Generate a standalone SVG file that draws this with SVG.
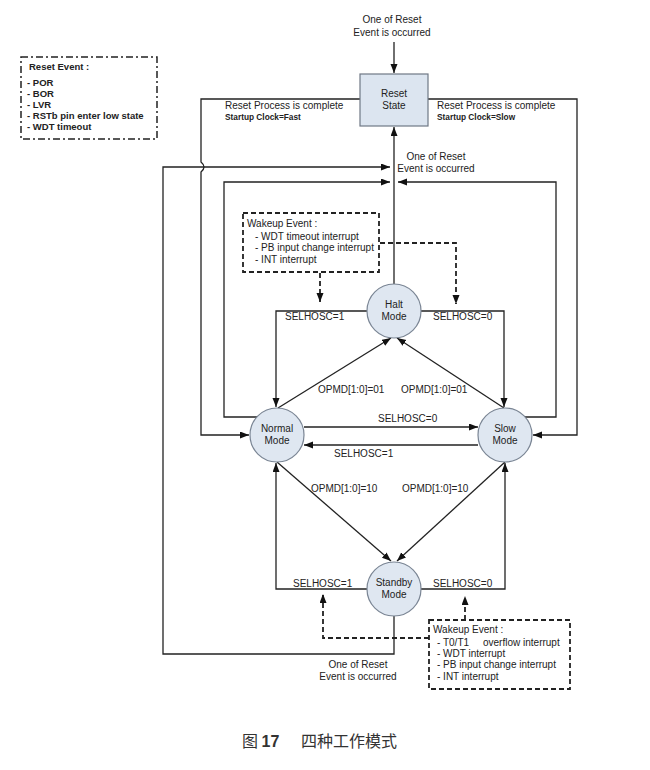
<svg xmlns="http://www.w3.org/2000/svg" width="650" height="770" viewBox="0 0 650 770">
<defs>
<marker id="ah" markerUnits="userSpaceOnUse" markerWidth="10" markerHeight="8" refX="9" refY="3.5" orient="auto">
<path d="M0,0 L9,3.5 L0,7 z" fill="#111"/>
</marker>
<style>
text{font-family:"Liberation Sans",Arial,sans-serif;fill:#222;}
.t{font-size:10px;}
.c{text-anchor:middle;}
.b{font-weight:bold;}
.ln{fill:none;stroke:#222;stroke-width:1.3;}
.dl{fill:none;stroke:#222;stroke-width:1.8;stroke-dasharray:5 3;}
.st{fill:#dfe7f1;stroke:#7a8594;stroke-width:1.2;}
</style>
</defs>
<rect width="650" height="770" fill="#fff"/>

<g id="reset-event-box">
<rect x="21" y="57" width="136" height="82" fill="none" stroke="#222" stroke-width="1.5" stroke-dasharray="7 3 2 3"/>
<text x="29" y="70" class="b" font-size="9.5">Reset Event :</text>
<text x="27" y="86" class="b" font-size="9.5">- POR</text>
<text x="27" y="97" class="b" font-size="9.5">- BOR</text>
<text x="27" y="108" class="b" font-size="9.5">- LVR</text>
<text x="27" y="119" class="b" font-size="9.5">- RSTb pin enter low state</text>
<text x="27" y="130" class="b" font-size="9.5">- WDT timeout</text>
</g>

<g id="connectors">
<path class="ln" d="M394,42 V73" marker-end="url(#ah)"/>
<path class="ln" d="M360,99 H201 V162 Q207,167 201,172 V435 H249" marker-end="url(#ah)"/>
<path class="ln" d="M428,99 H577 V435 H533" marker-end="url(#ah)"/>
<path class="ln" d="M394,284 V127" marker-end="url(#ah)"/>
<path class="ln" d="M394,616 V654 H163 V167 H390" marker-end="url(#ah)"/>
<path class="ln" d="M257,417 H224 V182 H390" marker-end="url(#ah)"/>
<path class="ln" d="M525,417 H556 V182 H398" marker-end="url(#ah)"/>
<path class="ln" d="M367,311 H276 V407" marker-end="url(#ah)"/>
<path class="ln" d="M421,311 H504 V407" marker-end="url(#ah)"/>
<path class="ln" d="M278,408 L391,338" marker-end="url(#ah)"/>
<path class="ln" d="M504,408 L397,338" marker-end="url(#ah)"/>
<path class="ln" d="M304,427 H478" marker-end="url(#ah)"/>
<path class="ln" d="M478,445 H304" marker-end="url(#ah)"/>
<path class="ln" d="M277,462 L391,561" marker-end="url(#ah)"/>
<path class="ln" d="M505,462 L397,561" marker-end="url(#ah)"/>
<path class="ln" d="M367,589 H276 V463" marker-end="url(#ah)"/>
<path class="ln" d="M421,589 H505 V463" marker-end="url(#ah)"/>
<path class="dl" d="M320,273 V302" marker-end="url(#ah)"/>
<path class="dl" d="M380,243 H456 V304" marker-end="url(#ah)"/>
<path class="dl" d="M429,638 H323 V594" marker-end="url(#ah)"/>
<path class="dl" d="M465,620 V596" marker-end="url(#ah)"/>
</g>

<g id="labels">
<text x="392" y="23" class="t c">One of Reset</text>
<text x="392" y="36" class="t c">Event is occurred</text>
<text x="225" y="109" class="t">Reset Process is complete</text>
<text x="225" y="120" class="b" font-size="8.3">Startup Clock=Fast</text>
<text x="437" y="109" class="t">Reset Process is complete</text>
<text x="437" y="120" class="b" font-size="8.3">Startup Clock=Slow</text>
<text x="436" y="160" class="t c">One of Reset</text>
<text x="436" y="172" class="t c">Event is occurred</text>
<text x="285" y="320" class="t">SELHOSC=1</text>
<text x="433" y="320" class="t">SELHOSC=0</text>
<text x="318" y="393" class="t">OPMD[1:0]=01</text>
<text x="401" y="393" class="t">OPMD[1:0]=01</text>
<text x="378" y="422" class="t">SELHOSC=0</text>
<text x="334" y="457" class="t">SELHOSC=1</text>
<text x="311" y="492" class="t">OPMD[1:0]=10</text>
<text x="402" y="492" class="t">OPMD[1:0]=10</text>
<text x="293" y="587" class="t">SELHOSC=1</text>
<text x="433" y="587" class="t">SELHOSC=0</text>
<text x="358" y="668" class="t c">One of Reset</text>
<text x="358" y="680" class="t c">Event is occurred</text>
</g>

<g id="reset-state">
<rect x="360" y="74" width="68" height="52" fill="#dce5f0" stroke="#6f7885" stroke-width="1.2"/>
<text x="394" y="97" class="t c">Reset</text>
<text x="394" y="109" class="t c">State</text>
</g>

<g id="halt-mode">
<circle cx="394" cy="311" r="27" class="st"/>
<text x="394" y="308" class="t c" font-size="9.5">Halt</text>
<text x="394" y="320" class="t c" font-size="9.5">Mode</text>
</g>

<g id="normal-mode">
<circle cx="277" cy="435" r="27" class="st"/>
<text x="277" y="432" class="t c" font-size="9.5">Normal</text>
<text x="277" y="444" class="t c" font-size="9.5">Mode</text>
</g>

<g id="slow-mode">
<circle cx="505" cy="435" r="27" class="st"/>
<text x="505" y="432" class="t c" font-size="9.5">Slow</text>
<text x="505" y="444" class="t c" font-size="9.5">Mode</text>
</g>

<g id="standby-mode">
<circle cx="394" cy="589" r="27" class="st"/>
<text x="394" y="586" class="t c" font-size="9.5">Standby</text>
<text x="394" y="598" class="t c" font-size="9.5">Mode</text>
</g>

<g id="wakeup-top">
<rect x="243" y="213" width="136" height="59" fill="#fff" stroke="#222" stroke-width="1.8" stroke-dasharray="5 3"/>
<text x="247" y="227" class="t">Wakeup Event :</text>
<text x="255" y="240" class="t" font-size="9.5">- WDT timeout interrupt</text>
<text x="255" y="251" class="t" font-size="9.5">- PB input change interrupt</text>
<text x="255" y="263" class="t" font-size="9.5">- INT interrupt</text>
</g>

<g id="wakeup-bottom">
<rect x="429" y="620" width="141" height="69" fill="#fff" stroke="#222" stroke-width="1.8" stroke-dasharray="5 3"/>
<text x="433" y="633" class="t">Wakeup Event :</text>
<text x="437" y="646" class="t">- T0/T1 <tspan x="483">overflow interrupt</tspan></text>
<text x="437" y="657" class="t">- WDT interrupt</text>
<text x="437" y="668" class="t">- PB input change interrupt</text>
<text x="437" y="680" class="t">- INT interrupt</text>
</g>

<g id="caption">
<text x="242" y="747" font-size="16" style="font-family:'Noto Sans CJK SC',sans-serif;fill:#333;">图 <tspan font-weight="bold" style="font-family:'Liberation Sans',sans-serif;">17</tspan><tspan x="301">四种工作模式</tspan></text>
</g>
</svg>
